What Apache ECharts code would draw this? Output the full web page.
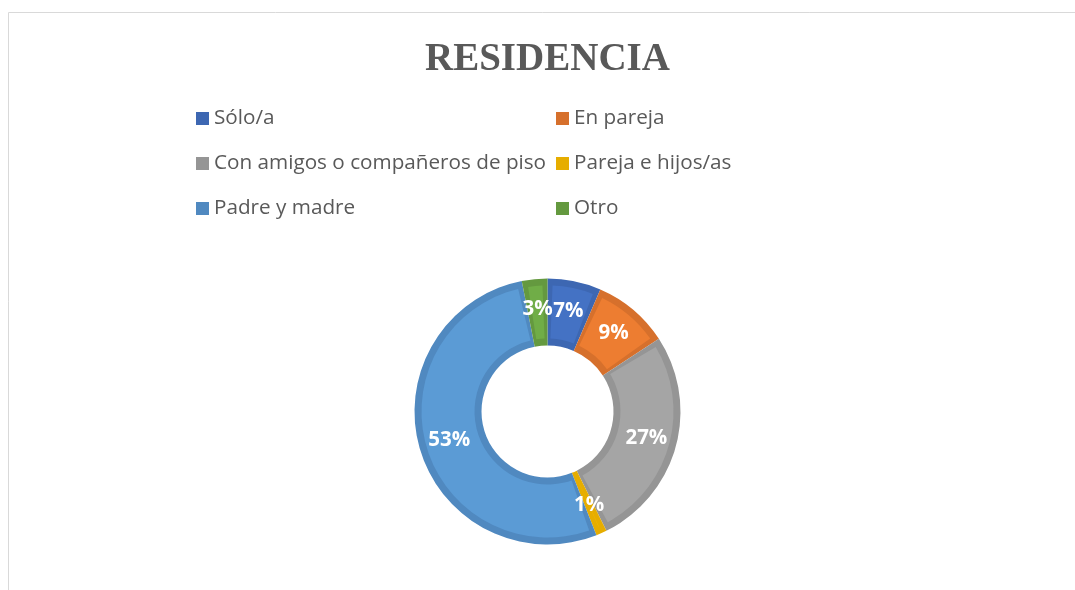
<!DOCTYPE html>
<html>
	<head>
		<meta charset="utf-8" />
		<title>Residencia</title>
		<script src="https://cdn.jsdelivr.net/npm/echarts/dist/echarts.min.js" type="text/javascript"></script>
		<style>
			body { margin: 0; background: #fff; }
		</style>
	</head>
	<body>
		<div id="main" style="width: 1075px; height: 590px;"></div>
		<script>
			// datos (porcentajes)
			var categories = ['Sólo/a', 'En pareja', 'Con amigos o compañeros de piso', 'Pareja e hijos/as', 'Padre y madre', 'Otro'];
			var values = [6.5, 9.3, 26.9, 1.3, 52.9, 3.1];
			var legendLeft = ['Sólo/a', 'Con amigos o compañeros de piso', 'Padre y madre'];
			var legendRight = ['En pareja', 'Pareja e hijos/as', 'Otro'];
			// relleno claro / borde oscuro
			var lightColors = ['#4472C4', '#ED7D31', '#A5A5A5', '#FFC000', '#5B9BD5', '#70AD47'];
			var darkColors = ['#3D67B2', '#D6702C', '#959595', '#E6AD00', '#5089C0', '#64993F'];

			var init = echarts.init(document.getElementById('main'));

			function buildData(colors) {
				var d = [];
				for (var i = 0; i < categories.length; i++) {
					d.push({
						name: categories[i],
						value: values[i],
						itemStyle: { color: colors[i] }
					});
				}
				return d;
			}

			var legendCommon = {
				orient: 'vertical',
				top: 108,
				padding: 0,
				itemWidth: 13,
				itemHeight: 13,
				itemGap: 24,
				icon: 'rect',
				selectedMode: false,
				textStyle: {
					fontFamily: 'Open Sans',
					fontSize: 20.7,
					color: '#595959'
				}
			};

			var option = {
				animation: false,
				title: {
					text: 'RESIDENCIA',
					left: 425,
					top: 40,
					padding: 0,
					textStyle: {
						fontFamily: 'Liberation Serif',
						fontWeight: 'bold',
						fontSize: 39,
						color: '#595959'
					}
				},
				legend: [
					Object.assign({}, legendCommon, { left: 196, data: legendLeft }),
					Object.assign({}, legendCommon, { left: 556, data: legendRight })
				],
				graphic: [{
					type: 'rect',
					silent: true,
					shape: { x: 8.5, y: 12.5, width: 1100, height: 600 },
					style: { fill: 'none', stroke: '#d9d9d9', lineWidth: 1 }
				}],
				series: [{
						// anillo oscuro (borde)
						type: 'pie',
						center: [547.5, 411.5],
						radius: [66, 133],
						silent: true,
						itemStyle: { borderWidth: 0 },
						label: { show: false },
						labelLine: { show: false },
						emphasis: { disabled: true },
						data: buildData(darkColors)
					},
					{
						// relleno claro
						type: 'pie',
						center: [547.5, 411.5],
						radius: [73, 126],
						padAngle: 4.6,
						silent: true,
						itemStyle: { borderWidth: 0 },
						emphasis: { disabled: true },
						labelLine: { show: false },
						label: {
							show: true,
							position: 'inside',
							formatter: function(p) {
								return Math.round(p.value) + '%';
							},
							fontFamily: 'Open Sans',
							fontWeight: 'bold',
							fontSize: 20.5,
							color: '#fff'
						},
						data: buildData(lightColors)
					}
				]
			};
			init.setOption(option);
		</script>
	</body>
</html>
